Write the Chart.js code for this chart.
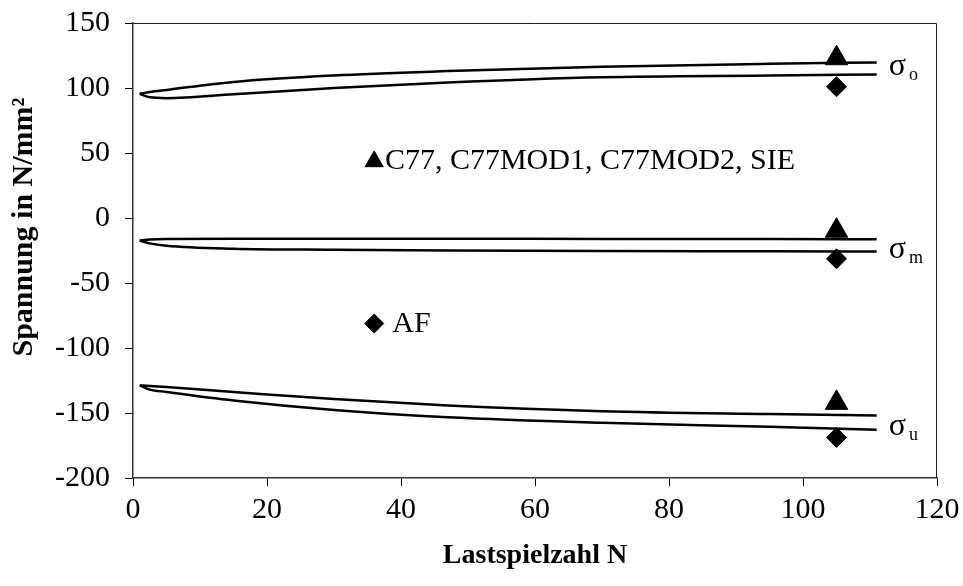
<!DOCTYPE html>
<html>
<head>
<meta charset="utf-8">
<script src="https://cdn.jsdelivr.net/npm/chart.js@4.4.1/dist/chart.umd.min.js"></script>
<style>
  html, body { margin: 0; background: #fff; }
  canvas { display: block; }
</style>
</head>
<body>
<canvas id="chart" width="963" height="586"></canvas>
<script>
const lastspielzahl = [1, 2.5, 5, 15, 30, 47, 70, 95, 111];

// Oberspannung (zwei Kurven), Mittelspannung, Unterspannung in N/mm²
const oberA = [95.6, 96.9, 98.5, 104.7, 109.7, 113.0, 116.3, 118.6, 119.7];
const oberB = [95.6, 92.8, 92.2, 95.2, 100.0, 104.3, 108.3, 109.6, 110.4];
const mittelA = [-17.3, -16.6, -16.2, -16.0, -16.0, -16.0, -16.1, -16.2, -16.3];
const mittelB = [-17.3, -19.5, -21.3, -23.6, -24.4, -25.0, -25.4, -25.6, -25.8];
const unterA = [-128.8, -129.2, -130.0, -133.8, -139.3, -144.2, -148.6, -150.8, -151.9];
const unterB = [-128.8, -132.0, -133.8, -140.3, -147.6, -153.2, -157.5, -160.6, -162.9];

// Einzelwerte bei N = 105
const versuchN = [105, 105, 105];
const c77Werte = [122.9, -9.8, -142.2];
const afWerte = [101.0, -31.4, -168.8];

// Legende im Diagramm
const legendTexte = ['C77, C77MOD1, C77MOD2, SIE', 'AF'];
const legendSymbolN = [36, 36];
const legendSymbolY = [43.5, -81.2];
const legendTextN = [37.6, 38.7];
const legendTextY = [38, -88];

// Kurvenbeschriftung σo, σm, σu
const sigmaIndex = ['o', 'm', 'u'];
const sigmaN = 112.8;
const sigmaY = [110, -31, -167];

const xTicks = [0, 20, 40, 60, 80, 100, 120];
const yTicks = [150, 100, 50, 0, -50, -100, -150, -200];
const yTitel = 'Spannung in N/mm²';

const serif = '"Liberation Serif", "Times New Roman", serif';

const kurve = werte => ({
  type: 'line',
  data: lastspielzahl.map((n, i) => ({ x: n, y: werte[i] })),
  borderColor: '#000',
  borderWidth: 2.5,
  pointRadius: 0,
  fill: false,
  cubicInterpolationMode: 'monotone'
});

const punkte = (nWerte, yWerte, style, r) => ({
  type: 'scatter',
  data: nWerte.map((n, i) => ({ x: n, y: yWerte[i] })),
  pointStyle: style,
  pointRadius: r,
  backgroundColor: '#000',
  borderColor: '#000',
  borderWidth: 1
});

const beschriftung = {
  id: 'beschriftung',
  afterDatasetsDraw(chart) {
    const { ctx, chartArea: a, scales: { x, y } } = chart;
    ctx.save();
    // oberer und rechter Rahmen
    ctx.strokeStyle = '#222';
    ctx.lineWidth = 1;
    ctx.beginPath();
    ctx.moveTo(a.left, a.top + 0.5);
    ctx.lineTo(a.right - 0.5, a.top + 0.5);
    ctx.lineTo(a.right - 0.5, a.bottom);
    ctx.stroke();

    ctx.fillStyle = '#000';
    ctx.textBaseline = 'alphabetic';
    ctx.textAlign = 'left';
    ctx.font = '30px ' + serif;
    legendTexte.forEach((t, i) => {
      ctx.fillText(t, x.getPixelForValue(legendTextN[i]), y.getPixelForValue(legendTextY[i]));
    });

    sigmaIndex.forEach((s, i) => {
      const px = x.getPixelForValue(sigmaN);
      const py = y.getPixelForValue(sigmaY[i]);
      ctx.font = '32px ' + serif;
      ctx.fillText('σ', px, py);
      const w = ctx.measureText('σ').width;
      ctx.font = '18px ' + serif;
      ctx.fillText(s, px + w + 3, py + 5);
    });

    // y-Achsentitel, etwas oberhalb der Mitte
    ctx.translate(32, 227);
    ctx.rotate(-Math.PI / 2);
    ctx.textAlign = 'center';
    ctx.font = 'bold 30px ' + serif;
    ctx.fillText(yTitel, 0, 0);
    ctx.restore();
  }
};

new Chart(document.getElementById('chart'), {
  data: {
    datasets: [
      kurve(oberA), kurve(oberB),
      kurve(mittelA), kurve(mittelB),
      kurve(unterA), kurve(unterB),
      punkte(versuchN, c77Werte, 'triangle', 13),
      punkte(versuchN, afWerte, 'rectRot', 10),
      punkte(legendSymbolN.slice(0, 1), legendSymbolY.slice(0, 1), 'triangle', 10.5),
      punkte(legendSymbolN.slice(1), legendSymbolY.slice(1), 'rectRot', 9.5)
    ]
  },
  options: {
    responsive: false,
    animation: false,
    layout: { autoPadding: false, padding: { top: 23, right: 26, left: 0, bottom: 0 } },
    plugins: {
      legend: { display: false },
      tooltip: { enabled: false }
    },
    scales: {
      x: {
        type: 'linear',
        min: 0,
        max: 120,
        afterBuildTicks: s => { s.ticks = xTicks.map(v => ({ value: v })); },
        afterFit: s => {
          s.height = 108;
          s.paddingLeft = 0;
          s.paddingRight = 0;
        },
        grid: { drawOnChartArea: false, tickLength: 8, color: '#000', lineWidth: 1 },
        border: { color: '#333', width: 1.5 },
        ticks: { color: '#000', padding: 6, font: { family: serif, size: 30 } },
        title: {
          display: true,
          text: 'Lastspielzahl N',
          color: '#000',
          padding: { bottom: 13 },
          font: { family: serif, size: 28, weight: 'bold' }
        }
      },
      y: {
        type: 'linear',
        min: -200,
        max: 150,
        afterBuildTicks: s => { s.ticks = yTicks.map(v => ({ value: v })); },
        afterFit: s => {
          s.width = 133;
          s.paddingTop = 0;
          s.paddingBottom = 0;
        },
        grid: { drawOnChartArea: false, tickLength: 8, color: '#000', lineWidth: 1 },
        border: { color: '#333', width: 1.5 },
        ticks: { color: '#000', padding: 15, font: { family: serif, size: 30 } }
      }
    }
  },
  plugins: [beschriftung]
});
</script>
</body>
</html>
